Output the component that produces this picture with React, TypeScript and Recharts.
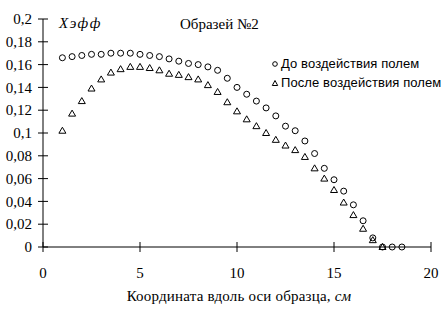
import React from 'react';
import { ScatterChart, Scatter, XAxis, YAxis, Customized } from 'recharts';

const positions = [1, 1.5, 2, 2.5, 3, 3.5, 4, 4.5, 5, 5.5, 6, 6.5, 7, 7.5, 8, 8.5, 9, 9.5, 10, 10.5, 11, 11.5, 12, 12.5, 13, 13.5, 14, 14.5, 15, 15.5, 16, 16.5, 17, 17.5, 18, 18.5];
const beforeValues = [0.166, 0.167, 0.168, 0.169, 0.169, 0.17, 0.17, 0.17, 0.169, 0.168, 0.167, 0.165, 0.163, 0.161, 0.16, 0.158, 0.155, 0.148, 0.14, 0.134, 0.128, 0.122, 0.115, 0.106, 0.102, 0.093, 0.082, 0.069, 0.059, 0.049, 0.037, 0.023, 0.008, 0, 0, 0];
const afterValues = [0.102, 0.117, 0.128, 0.139, 0.147, 0.153, 0.156, 0.158, 0.158, 0.157, 0.155, 0.152, 0.151, 0.149, 0.147, 0.142, 0.136, 0.127, 0.119, 0.112, 0.106, 0.1, 0.094, 0.089, 0.085, 0.079, 0.069, 0.06, 0.05, 0.039, 0.028, 0.016, 0.006, 0];
const xTicks = [0, 5, 10, 15, 20];
const yTicks = [0, 0.02, 0.04, 0.06, 0.08, 0.1, 0.12, 0.14, 0.16, 0.18, 0.2];
const seriesNames = ['До воздействия полем', 'После воздействия полем'];
const chartTitle = 'Образей №2';
const yTitle = 'Хэфф';
const xTitle = 'Координата вдоль оси образца, ';
const xUnit = 'см';

const beforeData = beforeValues.map((v, i) => ({ x: positions[i], y: v }));
const afterData = afterValues.map((v, i) => ({ x: positions[i], y: v }));

const SERIF = '"Liberation Serif", "Times New Roman", serif';
const SANS = '"Liberation Sans", Arial, sans-serif';
const TS = 5;
const TMY = 6;
const TMX = 15;

const fmtY = (v: number) => (v === 0 ? '0' : String(v).replace('.', ','));

const YTick = (p: any) => {
  const ax = p.x + TS + TMY;
  return (
    <g>
      <line x1={ax - TS} x2={ax + TS} y1={p.y} y2={p.y} stroke="#000" strokeWidth={1} />
      <text x={p.x} y={p.y} dy="0.35em" textAnchor="end" fontFamily={SERIF} fontSize={15} fill="#000">
        {fmtY(p.payload.value)}
      </text>
    </g>
  );
};

const XTick = (p: any) => {
  const ay = p.y - TS - TMX;
  return (
    <g>
      <line x1={p.x} x2={p.x} y1={ay - TS} y2={ay + TS} stroke="#000" strokeWidth={1} />
      <text x={p.x} y={p.y} dy="0.71em" textAnchor="middle" fontFamily={SERIF} fontSize={15} fill="#000">
        {p.payload.value}
      </text>
    </g>
  );
};

const CircleShape = (p: any) => (
  <circle cx={p.cx} cy={p.cy} r={3} fill="none" stroke="#000" strokeWidth={1} />
);

const TriShape = (p: any) => (
  <path
    d={`M${p.cx},${p.cy - 3.5}L${p.cx - 3.5},${p.cy + 2.5}L${p.cx + 3.5},${p.cy + 2.5}Z`}
    fill="none"
    stroke="#000"
    strokeWidth={1}
  />
);

const Annotations = () => (
  <g>
    <text x={59} y={28} fontFamily={SERIF} fontStyle="italic" fontSize={15} letterSpacing={1.5} fill="#000">{yTitle}</text>
    <text x={180} y={29} fontFamily={SERIF} fontSize={15} fill="#000">{chartTitle}</text>
    <circle cx={275} cy={64} r={2.3} fill="none" stroke="#000" strokeWidth={1} />
    <text x={281} y={67.5} fontFamily={SANS} fontSize={13} letterSpacing={0.1} fill="#000">{seriesNames[0]}</text>
    <path d="M275,80.5L272.3,85.5L277.7,85.5Z" fill="none" stroke="#000" strokeWidth={1} />
    <text x={281} y={87} fontFamily={SANS} fontSize={13} letterSpacing={0.1} fill="#000">{seriesNames[1]}</text>
    <text x={239} y={301} textAnchor="middle" fontFamily={SERIF} fontSize={15} letterSpacing={0.2} fill="#000">
      {xTitle}
      <tspan fontStyle="italic">{xUnit}</tspan>
    </text>
  </g>
);

export default function App() {
  return (
    <div style={{ position: 'absolute', left: 0, top: 0, width: 444, height: 317, background: '#fff' }}>
      <ScatterChart width={444} height={317} margin={{ top: 19, right: 13, bottom: 0, left: 0 }}>
        <XAxis
          type="number"
          dataKey="x"
          domain={[0, 20]}
          ticks={xTicks}
          interval={0}
          height={70}
          tickSize={TS}
          tickMargin={TMX}
          tickLine={false}
          tick={<XTick />}
          axisLine={{ stroke: '#000', strokeWidth: 1 }}
        />
        <YAxis
          type="number"
          dataKey="y"
          domain={[0, 0.2]}
          ticks={yTicks}
          interval={0}
          width={43}
          tickSize={TS}
          tickMargin={TMY}
          tickLine={false}
          tick={<YTick />}
          axisLine={{ stroke: '#000', strokeWidth: 1 }}
        />
        <Scatter name={seriesNames[1]} data={afterData} shape={TriShape} isAnimationActive={false} />
        <Scatter name={seriesNames[0]} data={beforeData} shape={CircleShape} isAnimationActive={false} />
        <Customized component={Annotations} />
      </ScatterChart>
    </div>
  );
}
